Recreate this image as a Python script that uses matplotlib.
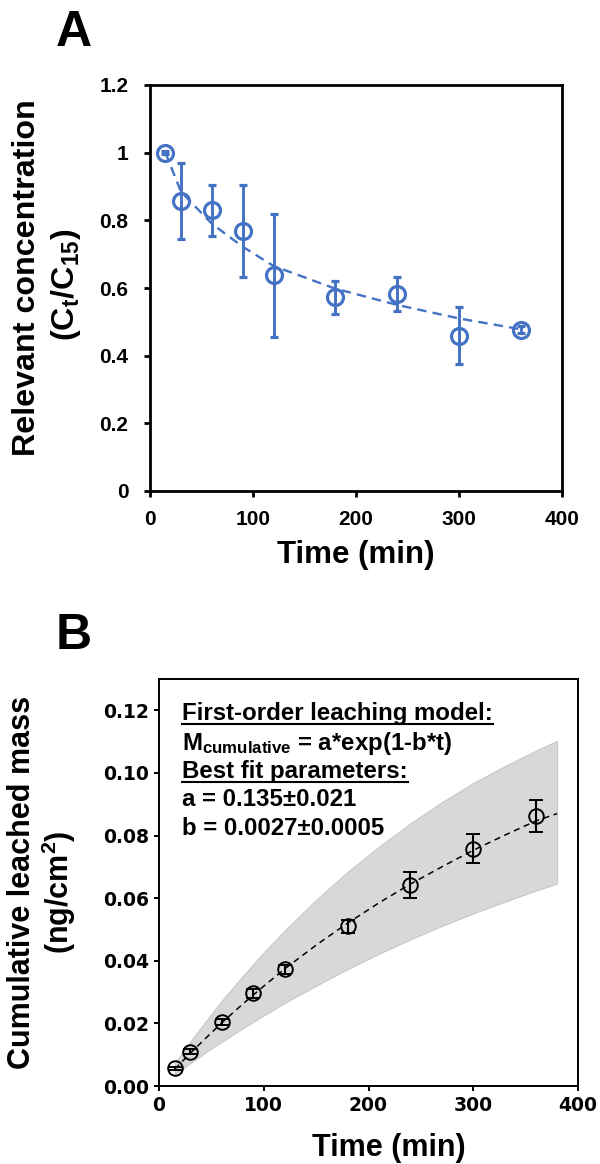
import matplotlib
matplotlib.use("Agg")
import matplotlib.pyplot as plt
from matplotlib.lines import Line2D

plt.rcParams['mathtext.fontset'] = 'custom'
plt.rcParams['mathtext.rm'] = 'Liberation Sans:bold'
plt.rcParams['mathtext.it'] = 'Liberation Sans:bold'
plt.rcParams['mathtext.bf'] = 'Liberation Sans:bold'

# ---------------- data ----------------
# Panel A
time_A = [15, 30, 60, 90, 120, 180, 240, 300, 360]
conc_A = [1.0, 0.858, 0.830, 0.768, 0.638, 0.572, 0.582, 0.459, 0.477]
err_A = [0.005, 0.112, 0.075, 0.135, 0.182, 0.048, 0.050, 0.084, 0.010]
fit_time_A = [15, 30, 60, 90, 120, 180, 240, 300, 360]
fit_conc_A = [1.0, 0.885, 0.790, 0.722, 0.665, 0.598, 0.550, 0.510, 0.478]
yticks_A = [0, 0.2, 0.4, 0.6, 0.8, 1.0, 1.2]
yticklabels_A = ['0', '0.2', '0.4', '0.6', '0.8', '1', '1.2']
xticks = [0, 100, 200, 300, 400]

# Panel B
time_B = [15, 30, 60, 90, 120, 180, 240, 300, 360]
mass_B = [0.0057, 0.0110, 0.0205, 0.0296, 0.0373, 0.0510, 0.0641, 0.0758, 0.0862]
err_B = [0.0005, 0.0008, 0.0010, 0.0015, 0.0015, 0.0021, 0.0041, 0.0046, 0.0050]
fit_time_B = [15, 30, 45, 60, 80, 100, 120, 150, 180, 210, 240, 270, 300, 330, 360, 380]
fit_mass_B = [0.0054, 0.0105, 0.0154, 0.0202, 0.0262, 0.0319, 0.0374, 0.0450, 0.0520,
              0.0585, 0.0645, 0.0700, 0.0753, 0.0801, 0.0847, 0.0870]
upper_B = [0.0073, 0.0143, 0.0209, 0.0273, 0.0352, 0.0427, 0.0497, 0.0595, 0.0684,
           0.0765, 0.0839, 0.0907, 0.0968, 0.1022, 0.1072, 0.1103]
lower_B = [0.0037, 0.0073, 0.0108, 0.0141, 0.0184, 0.0225, 0.0265, 0.0320, 0.0373,
           0.0422, 0.0468, 0.0511, 0.0551, 0.0588, 0.0624, 0.0646]
yticks_B = [0.00, 0.02, 0.04, 0.06, 0.08, 0.10, 0.12]

text_lines_B = ["First-order leaching model:",
                r"M$_{cumulative}$ = a*exp(1-b*t)",
                "Best fit parameters:",
                "a = 0.135\u00b10.021",
                "b = 0.0027\u00b10.0005"]
underlined_B = [True, False, True, False, False]

ARIAL = 'Liberation Sans'
BLUE = '#4472C4'
W, H = 600, 1164

fig = plt.figure(figsize=(W / 100, H / 100), dpi=100)


def P(x, y):
    return (x / W, 1 - y / H)


# ---------------- Panel A ----------------
axA = fig.add_axes([150 / W, (H - 491) / H, 412 / W, 406 / H])
axA.plot(fit_time_A, fit_conc_A, ls=(0, (4, 2.6)), color=BLUE, lw=1.7, zorder=2)
axA.errorbar(time_A, conc_A, yerr=err_A, fmt='o', ms=11.5, mfc='none', mec=BLUE,
             mew=2.3, ecolor=BLUE, elinewidth=2.1, capsize=3, capthick=2.1, zorder=3)
axA.set_xlim(0, 400)
axA.set_ylim(0, 1.2)
axA.set_xticks(xticks)
axA.set_yticks(yticks_A)
axA.set_yticklabels(yticklabels_A)
for s in axA.spines.values():
    s.set_linewidth(2.0)
    s.set_color('black')
axA.tick_params(axis='both', direction='out', length=4.5, width=2.0, labelsize=15)
axA.tick_params(axis='y', pad=11)
axA.tick_params(axis='x', pad=9)
for lab in axA.get_xticklabels() + axA.get_yticklabels():
    lab.set_fontfamily(ARIAL)
    lab.set_fontweight('bold')

fig.text(*P(74, 33), 'A', fontsize=36, fontweight='bold', family=ARIAL,
         ha='center', va='center')
fig.text(*P(27, 278), 'Relevant concentration', fontsize=23.2, fontweight='bold',
         family=ARIAL, rotation=90, ha='center', va='center')
fig.text(*P(66, 285), r'(C$_{t}$/C$_{15}$)', fontsize=23.2, fontweight='bold',
         family=ARIAL, rotation=90, ha='center', va='center')
fig.text(*P(356, 555), 'Time (min)', fontsize=22.5, fontweight='bold', family=ARIAL,
         ha='center', va='center')

# ---------------- Panel B ----------------
axB = fig.add_axes([159 / W, (H - 1086) / H, 419 / W, 407 / H])
axB.fill_between(fit_time_B, lower_B, upper_B, color='gray', alpha=0.3, lw=0.8, zorder=1)
axB.plot(fit_time_B, fit_mass_B, ls=(0, (4, 3)), color='black', lw=1.1, zorder=2)
axB.errorbar(time_B, mass_B, yerr=err_B, fmt='o', ms=10.5, mfc='none', mec='black',
             mew=1.4, ecolor='black', elinewidth=1.5, capsize=5, capthick=1.5, zorder=3)
axB.set_xlim(0, 400)
axB.set_ylim(0, 0.13)
axB.set_xticks(xticks)
axB.set_yticks(yticks_B)
axB.set_yticklabels(['%.2f' % v for v in yticks_B])
for s in axB.spines.values():
    s.set_linewidth(1.4)
    s.set_color('black')
axB.tick_params(axis='both', direction='out', length=3.5, width=1.4, labelsize=13.5, pad=3.5)
for lab in axB.get_xticklabels() + axB.get_yticklabels():
    lab.set_fontfamily('DejaVu Sans')
    lab.set_fontweight('bold')

fig.text(*P(74, 636), 'B', fontsize=36, fontweight='bold', family=ARIAL,
         ha='center', va='center')
fig.text(*P(22, 882), 'Cumulative leached mass', fontsize=22, fontweight='bold',
         family=ARIAL, rotation=90, ha='center', va='center')
fig.text(*P(59, 892), r'(ng/cm$^{2}$)', fontsize=22, fontweight='bold',
         family=ARIAL, rotation=90, ha='center', va='center')
fig.text(*P(389, 1148), 'Time (min)', fontsize=22, fontweight='bold', family=ARIAL,
         ha='center', va='center')

baselines = [720, 750, 778, 806.5, 835]
texts = []
for line, yb in zip(text_lines_B, baselines):
    t = fig.text(*P(182, yb), line, fontsize=17.3, fontweight='bold', family=ARIAL,
                 ha='left', va='baseline')
    texts.append(t)

fig.canvas.draw()
renderer = fig.canvas.get_renderer()
for t, ul, yb in zip(texts, underlined_B, baselines):
    if ul:
        bb = t.get_window_extent(renderer)
        yl = yb + 4
        fig.add_artist(Line2D([bb.x0 / W, bb.x1 / W], [1 - yl / H, 1 - yl / H],
                              transform=fig.transFigure, color='black', lw=1.5))

fig.savefig('out.png', dpi=100)
